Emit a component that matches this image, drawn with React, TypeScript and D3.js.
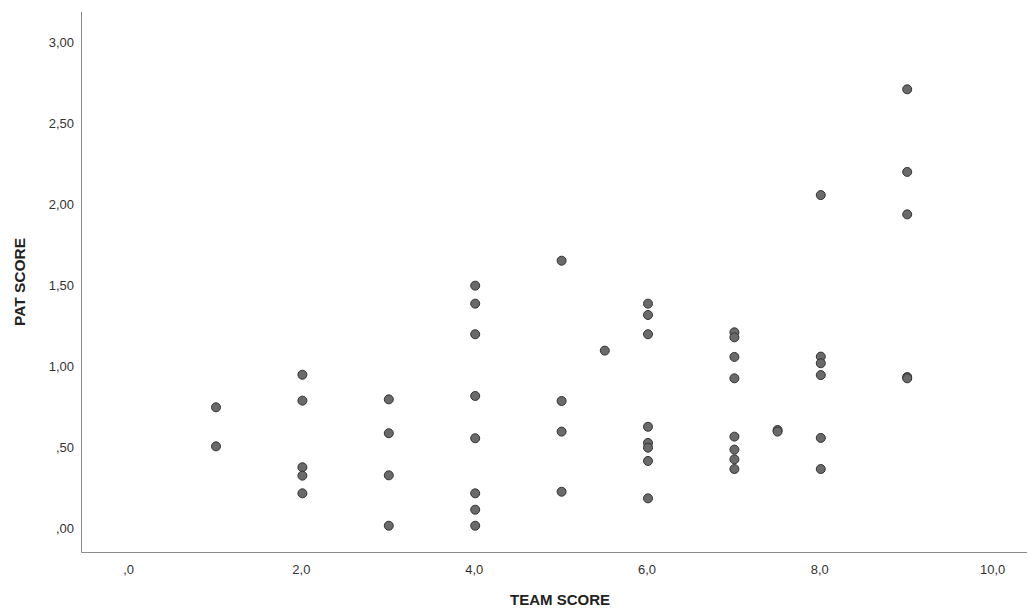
import React from "react";
import * as d3 from "d3";

const teamScore = [
  1, 1,
  2, 2, 2, 2, 2,
  3, 3, 3, 3,
  4, 4, 4, 4, 4, 4, 4, 4,
  5, 5, 5, 5,
  5.5,
  6, 6, 6, 6, 6, 6, 6, 6,
  7, 7, 7, 7, 7, 7, 7, 7,
  7.5, 7.5,
  8, 8, 8, 8, 8, 8,
  9, 9, 9, 9, 9,
];
const patScore = [
  0.745, 0.504,
  0.946, 0.786, 0.375, 0.323, 0.214,
  0.794, 0.585, 0.325, 0.014,
  1.496, 1.385, 1.196, 0.815, 0.554, 0.214, 0.113, 0.014,
  1.65, 0.784, 0.595, 0.224,
  1.095,
  1.385, 1.315, 1.196, 0.625, 0.525, 0.496, 0.414, 0.183,
  1.208, 1.177, 1.056, 0.924, 0.564, 0.484, 0.424, 0.364,
  0.605, 0.595,
  2.055, 1.058, 1.017, 0.944, 0.556, 0.364,
  2.708, 2.198, 1.936, 0.932, 0.924,
];

const xTicks = [0, 2, 4, 6, 8, 10];
const xTickLabels = [",0", "2,0", "4,0", "6,0", "8,0", "10,0"];
const yTicks = [0, 0.5, 1, 1.5, 2, 2.5, 3];
const yTickLabels = [",00", ",50", "1,00", "1,50", "2,00", "2,50", "3,00"];

const xTitle = "TEAM SCORE";
const yTitle = "PAT SCORE";

export default function App() {
  const W = 1028;
  const H = 609;
  const axisLeft = 81.5;
  const axisBottom = 552.5;
  const axisTop = 12;
  const axisRight = 1027;

  const x = d3.scaleLinear().domain([0, 10]).range([129.6, 993.6]);
  const y = d3.scaleLinear().domain([0, 3]).range([528, 42]);

  const font = "Arial, 'Liberation Sans', sans-serif";

  return (
    <svg
      width={W}
      height={H}
      style={{ position: "absolute", left: 0, top: 0, background: "#fff" }}
    >
      <rect x={0} y={0} width={W} height={H} fill="#fff" />
      {/* axes */}
      <line x1={axisLeft} x2={axisLeft} y1={axisTop} y2={axisBottom} stroke="#8a8a8a" strokeWidth={1} />
      <line x1={axisLeft} x2={axisRight} y1={axisBottom} y2={axisBottom} stroke="#8a8a8a" strokeWidth={1} />

      {/* y tick labels */}
      {yTicks.map((t, i) => (
        <text
          key={"y" + i}
          x={74}
          y={y(t)}
          dy="0.35em"
          textAnchor="end"
          fontFamily={font}
          fontSize={13}
          fill="#333"
        >
          {yTickLabels[i]}
        </text>
      ))}

      {/* x tick labels */}
      {xTicks.map((t, i) => (
        <text
          key={"x" + i}
          x={x(t) - 1}
          y={573.5}
          textAnchor="middle"
          fontFamily={font}
          fontSize={13}
          fill="#333"
        >
          {xTickLabels[i]}
        </text>
      ))}

      {/* titles */}
      <text
        x={560}
        y={605}
        textAnchor="middle"
        fontFamily={font}
        fontSize={15}
        fontWeight="bold"
        fill="#222"
      >
        {xTitle}
      </text>
      <text
        transform={`translate(25, 282) rotate(-90)`}
        textAnchor="middle"
        fontFamily={font}
        fontSize={15.5}
        fontWeight="bold"
        fill="#222"
      >
        {yTitle}
      </text>

      {/* points */}
      {teamScore.map((v, i) => (
        <circle
          key={"p" + i}
          cx={x(v)}
          cy={y(patScore[i])}
          r={4.5}
          fill="#6a6a6a"
          stroke="#333"
          strokeWidth={1}
        />
      ))}
    </svg>
  );
}
